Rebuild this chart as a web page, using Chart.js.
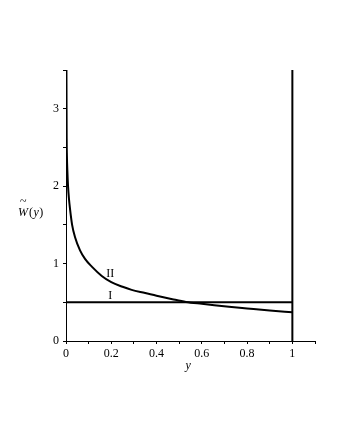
<!DOCTYPE html>
<html>
<head>
<meta charset="utf-8">
<script src="https://cdn.jsdelivr.net/npm/chart.js"></script>
<style>
	html, body { margin: 0; padding: 0; background: #fff; }
	canvas { display: block; }
</style>
</head>
<body>
<canvas id="graficoW" width="340" height="440"></canvas>
<script>
/* valores */
var curvaIIx = [0.002, 0.0025, 0.003, 0.004, 0.006, 0.009, 0.013, 0.018, 0.027, 0.04, 0.062, 0.084, 0.114, 0.158, 0.2, 0.25, 0.29, 0.35, 0.4, 0.47, 0.53, 0.6, 0.655, 0.72, 0.8, 0.9, 1.0];
var curvaIIy = [3.5, 3.0, 2.62, 2.4, 2.2, 2.0, 1.84, 1.7, 1.5, 1.34, 1.17, 1.06, 0.96, 0.84, 0.76, 0.7, 0.66, 0.62, 0.585, 0.54, 0.505, 0.48, 0.462, 0.442, 0.42, 0.393, 0.37];
var curvaIx = [0, 1];
var curvaIy = [0.5, 0.5];
var paredeX = [1, 1];
var paredeY = [0, 3.5];

var rotulosX = ['0', '0.2', '0.4', '0.6', '0.8', '1'];
var rotulosY = ['0', '1', '2', '3'];

var fonte = '"Liberation Serif", "DejaVu Serif", serif';

function pontos(xs, ys) {
	return xs.map(function(x, i) { return { x: x, y: ys[i] }; });
}

function serie(xs, ys) {
	return {
		data: pontos(xs, ys),
		showLine: true,
		borderColor: '#000',
		borderWidth: 2,
		pointRadius: 0,
		cubicInterpolationMode: 'monotone',
		fill: false
	};
}

/* textos extras: titulo do eixo y e nomes das curvas */
var textosExtras = {
	id: 'textosExtras',
	afterDraw: function(chart) {
		var ctx = chart.ctx;
		var sx = chart.scales.x, sy = chart.scales.y;
		ctx.save();
		ctx.fillStyle = '#000';
		ctx.textBaseline = 'alphabetic';

		ctx.font = '12px ' + fonte;
		ctx.textAlign = 'center';
		ctx.fillText('I', sx.getPixelForValue(0.196), sy.getPixelForValue(0.54));
		ctx.fillText('II', sx.getPixelForValue(0.196), sy.getPixelForValue(0.83));

		// W(y) com til
		var x0 = 18, base = 216;
		ctx.textAlign = 'left';
		ctx.font = 'italic 12px ' + fonte;
		ctx.fillText('W', x0, base);
		var wW = ctx.measureText('W').width;
		ctx.font = '12px ' + fonte;
		ctx.fillText('~', x0 + 2, base - 11);
		ctx.fillText('(', x0 + wW + 1, base);
		var wP = ctx.measureText('(').width;
		ctx.font = 'italic 12px ' + fonte;
		ctx.fillText('y', x0 + wW + wP + 1.5, base);
		var wY = ctx.measureText('y').width;
		ctx.font = '12px ' + fonte;
		ctx.fillText(')', x0 + wW + wP + wY + 2, base);

		// titulo do eixo x
		ctx.font = 'italic 12px ' + fonte;
		ctx.textAlign = 'center';
		ctx.fillText('y', sx.getPixelForValue(0.54), 369);
		ctx.restore();
	}
};

function rotulo(lista, passo) {
	return function(v) {
		var n = Math.round(v / passo);
		var t = String(Math.round(v * 10) / 10);
		return lista.indexOf(t) >= 0 && Math.abs(v - n * passo) < 1e-6 ? t : '';
	};
}

var grafico = new Chart(document.getElementById('graficoW').getContext('2d'), {
	type: 'scatter',
	data: {
		datasets: [
			serie(curvaIIx, curvaIIy),
			serie(curvaIx, curvaIy),
			serie(paredeX, paredeY)
		]
	},
	options: {
		responsive: false,
		animation: false,
		layout: { padding: { left: 0, top: 70, right: 25, bottom: 69 } },
		plugins: { legend: { display: false }, tooltip: { enabled: false } },
		scales: {
			x: {
				type: 'linear', min: 0, max: 1.1,
				afterFit: function(s) { s.height = 30; },
				grid: { display: true, drawOnChartArea: false, drawTicks: true, tickLength: 3, color: '#000' },
				border: { display: true, color: '#000', width: 1 },
				ticks: { stepSize: 0.1, autoSkip: false, maxRotation: 0, padding: 3, color: '#000',
					font: { family: fonte, size: 12 }, callback: rotulo(rotulosX, 0.2) }
			},
			y: {
				type: 'linear', min: 0, max: 3.5,
				afterFit: function(s) { s.width = 66; },
				grid: { display: true, drawOnChartArea: false, drawTicks: true, tickLength: 3, color: '#000' },
				border: { display: true, color: '#000', width: 1 },
				ticks: { stepSize: 0.5, autoSkip: false, padding: 4, color: '#000',
					font: { family: fonte, size: 12 }, callback: rotulo(rotulosY, 1) }
			}
		}
	},
	plugins: [textosExtras]
});
</script>
</body>
</html>
